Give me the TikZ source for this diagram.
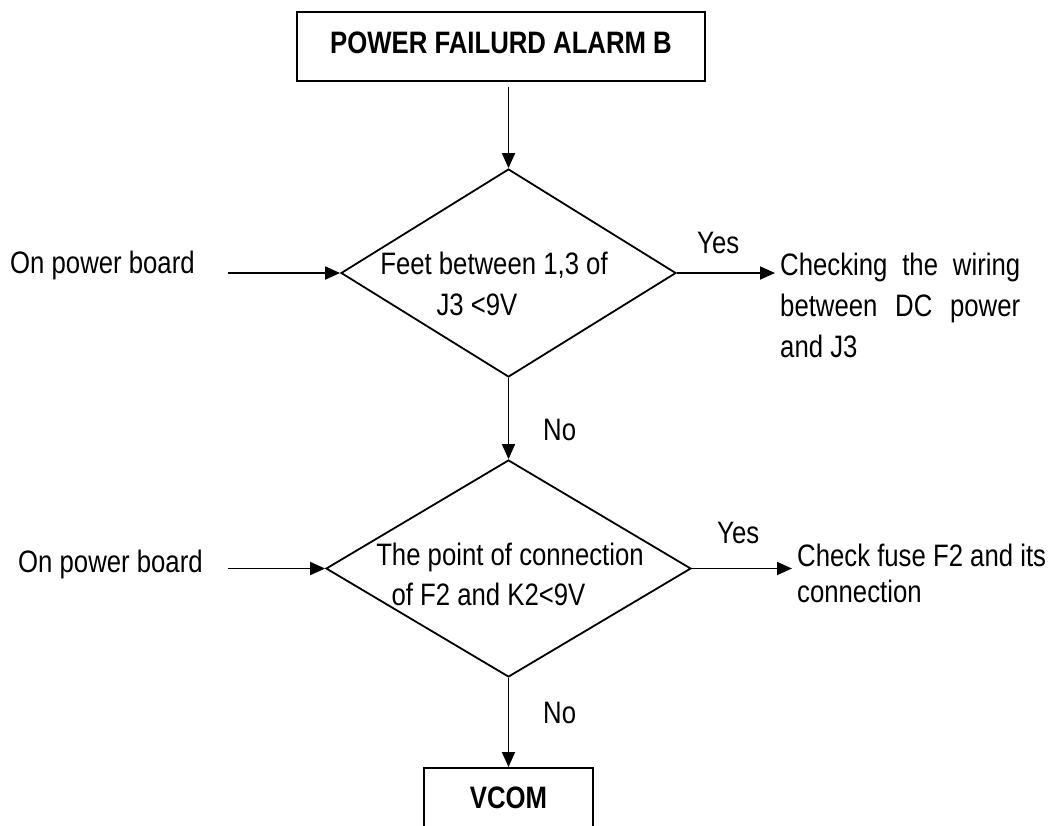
\documentclass[tikz,border=0pt]{standalone}
\usepackage{fontspec}
\setmainfont{Liberation Sans}[FakeStretch=0.83]
\usetikzlibrary{shapes.geometric,arrows.meta}
\begin{document}
\begin{tikzpicture}[x=1pt,y=-1pt,
  every node/.style={font=\fontsize{31}{41}\selectfont},
  arr/.style={line width=1.8pt,-{Triangle[length=15pt,width=13pt]}},
  box/.style={draw,line width=1.8pt,rectangle,inner xsep=0pt},
  dec/.style={draw,line width=1.8pt,diamond,inner sep=0pt},
  lbl/.style={inner sep=0pt,anchor=base west},
  mtext/.style={inner sep=0pt,anchor=base,align=center}]
\useasboundingbox (0,0) rectangle (1056,825);
\clip (0,0) rectangle (1056,825);

% boxes
\node[box,anchor=north,minimum width=408pt,text height=22pt,text depth=7pt,inner ysep=20pt] (title) at (501,11) {\bfseries POWER FAILURD ALARM B};
\node[box,anchor=north,minimum width=169pt,text height=22pt,text depth=60pt,inner ysep=19pt] (vcom) at (508.5,767) {\bfseries VCOM};

% decisions
\node[dec,minimum width=335pt,minimum height=208pt] (d1) at (508.5,273) {};
\node[dec,minimum width=365pt,minimum height=217pt] (d2) at (508.5,568.5) {};
\node[mtext] (t1) at (494,315) {Feet between 1,3 of\\J3 <9V\hspace*{34pt}};
\node[mtext,font=\fontsize{31}{40}\selectfont] (t2) at (510,605) {The point of connection\\of F2 and K2<9V\hspace*{43pt}};

% side texts
\node[lbl] (p1) at (10,273) {On power board};
\node[lbl] (p2) at (18,572) {On power board};
\coordinate (s1) at (228,273);
\coordinate (s2) at (228,568.5);
\node[lbl,align=left,font=\fontsize{31}{41}\selectfont] (c1) at (780,357)
  {\makebox[240pt][s]{Checking the wiring}\\\makebox[240pt][s]{between DC power}\\and J3};
\node[lbl,align=left,font=\fontsize{31}{36}\selectfont] (c2) at (797,602)
  {Check fuse F2 and its\\connection};

% labels
\node[lbl] (y1) at (697,253) {Yes};
\node[lbl] (y2) at (717,543) {Yes};
\node[lbl] (n1) at (543,440) {No};
\node[lbl] (n2) at (543,723) {No};

% connectors
\draw[arr,shorten <=5pt] (title.south -| d1.north) -- (d1.north);
\draw[arr] (s1) -- (d1.west);
\draw[arr] (s2) -- (d2.west);
\draw[arr,shorten >=5pt] (d1.east) -- (d1.east -| c1.west);
\draw[arr,shorten >=5pt] (d2.east) -- (d2.east -| c2.west);
\draw[arr] (d1.south) -- (d2.north);
\draw[arr] (d2.south) -- (vcom.north);
\end{tikzpicture}
\end{document}
